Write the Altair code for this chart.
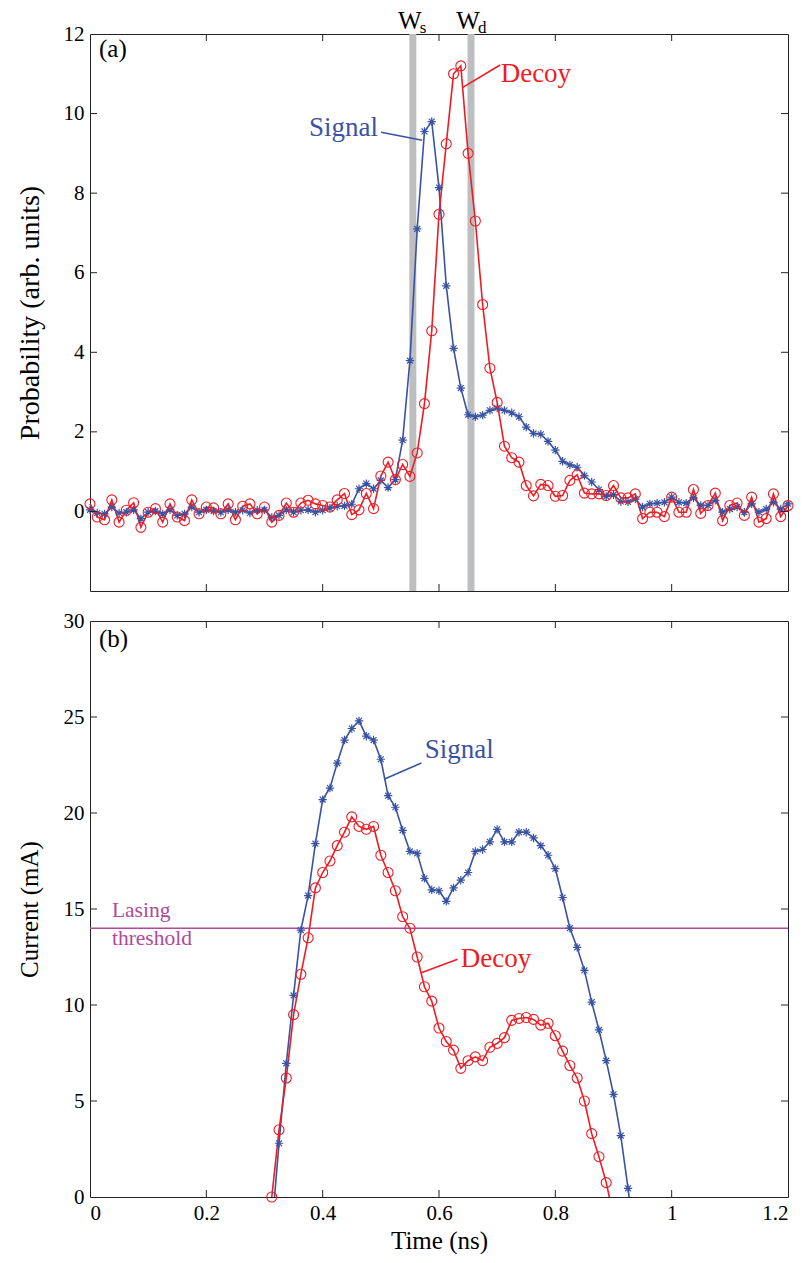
import altair as alt
import pandas as pd

# ---------------- data: panel (a) ----------------
time_a = [0, 0.0125, 0.025, 0.0375, 0.05, 0.0625, 0.075, 0.0875, 0.1, 0.1125,
          0.125, 0.1375, 0.15, 0.1625, 0.175, 0.1875, 0.2, 0.2125, 0.225, 0.2375,
          0.25, 0.2625, 0.275, 0.2875, 0.3, 0.3125, 0.325, 0.3375, 0.35, 0.3625,
          0.375, 0.3875, 0.4, 0.4125, 0.425, 0.4375, 0.45, 0.4625, 0.475, 0.4875,
          0.5, 0.5125, 0.525, 0.5375, 0.55, 0.5625, 0.575, 0.5875, 0.6, 0.6125,
          0.625, 0.6375, 0.65, 0.6625, 0.675, 0.6875, 0.7, 0.7125, 0.725, 0.7375,
          0.75, 0.7625, 0.775, 0.7875, 0.8, 0.8125, 0.825, 0.8375, 0.85, 0.8625,
          0.875, 0.8875, 0.9, 0.9125, 0.925, 0.9375, 0.95, 0.9625, 0.975, 0.9875,
          1.0, 1.0125, 1.025, 1.0375, 1.05, 1.0625, 1.075, 1.0875, 1.1, 1.1125,
          1.125, 1.1375, 1.15, 1.1625, 1.175, 1.1875, 1.2]

signal_a = [0.04, -0.04, -0.06, 0.11, -0.04, -0.02, 0.04, -0.18, -0.02, 0.01,
            -0.06, 0.04, -0.10, -0.06, 0.11, -0.02, 0.04, 0.01, -0.02, 0.04,
            -0.02, 0.03, -0.04, 0.03, 0.04, -0.15, -0.10, 0.04, -0.02, 0.03,
            0.04, -0.02, 0.03, 0.08, 0.13, 0.14, 0.18, 0.57, 0.70, 0.57,
            0.78, 0.60, 0.80, 1.79, 3.79, 7.10, 9.55, 9.80, 8.14, 5.67,
            4.10, 3.10, 2.43, 2.38, 2.42, 2.54, 2.60, 2.54, 2.48, 2.38,
            2.12, 1.96, 1.94, 1.76, 1.54, 1.26, 1.17, 1.11, 0.90, 0.74,
            0.55, 0.38, 0.42, 0.25, 0.24, 0.31, 0.11, 0.19, 0.21, 0.23,
            0.36, 0.23, 0.21, 0.34, 0.15, 0.15, 0.28, -0.02, 0.06, 0.11,
            -0.02, 0.19, -0.02, 0.06, 0.23, 0.06, 0.19]

decoy_a = [0.19, -0.14, -0.21, 0.29, -0.27, 0.03, 0.22, -0.40, -0.02, 0.07,
           -0.27, 0.19, -0.14, -0.23, 0.29, -0.06, 0.11, 0.09, -0.06, 0.19,
           -0.21, 0.13, 0.19, -0.06, 0.11, -0.27, -0.10, 0.21, -0.02, 0.21,
           0.28, 0.19, 0.15, 0.11, 0.29, 0.45, -0.08, 0.04, 0.45, 0.07,
           0.89, 1.24, 0.80, 1.18, 0.88, 1.47, 2.71, 4.54, 7.47, 9.24,
           11.0, 11.2, 9.0, 7.3, 5.2, 3.6, 2.74, 1.64, 1.35, 1.24,
           0.65, 0.39, 0.68, 0.65, 0.38, 0.40, 0.78, 0.92, 0.46, 0.44,
           0.44, 0.40, 0.65, 0.34, 0.34, 0.44, -0.18, -0.02, -0.02, -0.13,
           0.36, -0.02, -0.02, 0.55, -0.05, 0.15, 0.46, -0.23, 0.15, 0.21,
           -0.10, 0.36, -0.27, -0.18, 0.44, -0.13, 0.15]

window_times = [0.555, 0.655]
window_names = ["W", "W"]
window_subs = ["s", "d"]

# ---------------- data: panel (b) ----------------
time_b_signal = [0.3125, 0.325, 0.3375, 0.35, 0.3625, 0.375, 0.3875, 0.4, 0.4125, 0.425,
                 0.4375, 0.45, 0.4625, 0.475, 0.4875, 0.5, 0.5125, 0.525, 0.5375, 0.55,
                 0.5625, 0.575, 0.5875, 0.6, 0.6125, 0.625, 0.6375, 0.65, 0.6625, 0.675,
                 0.6875, 0.7, 0.7125, 0.725, 0.7375, 0.75, 0.7625, 0.775, 0.7875, 0.8,
                 0.8125, 0.825, 0.8375, 0.85, 0.8625, 0.875, 0.8875, 0.9, 0.9125, 0.925,
                 0.9375]
signal_b = [-1.7, 2.8, 6.96, 10.5, 13.9, 15.7, 18.4, 20.7, 21.3, 22.6,
            23.8, 24.4, 24.8, 24.0, 23.8, 22.8, 20.9, 20.3, 19.1, 18.0,
            17.9, 16.6, 16.0, 15.95, 15.4, 16.1, 16.5, 16.9, 18.0, 18.1,
            18.5, 19.15, 18.5, 18.5, 19.0, 19.0, 18.7, 18.3, 17.8, 17.1,
            15.6, 14.0, 13.0, 11.8, 10.15, 8.7, 7.1, 5.35, 3.2, 0.45,
            -2.5]

time_b_decoy = [0.3125, 0.325, 0.3375, 0.35, 0.3625, 0.375, 0.3875, 0.4, 0.4125, 0.425,
                0.4375, 0.45, 0.4625, 0.475, 0.4875, 0.5, 0.5125, 0.525, 0.5375, 0.55,
                0.5625, 0.575, 0.5875, 0.6, 0.6125, 0.625, 0.6375, 0.65, 0.6625, 0.675,
                0.6875, 0.7, 0.7125, 0.725, 0.7375, 0.75, 0.7625, 0.775, 0.7875, 0.8,
                0.8125, 0.825, 0.8375, 0.85, 0.8625, 0.875, 0.8875, 0.9]
decoy_b = [0.0, 3.5, 6.2, 9.5, 11.6, 13.5, 16.1, 16.9, 17.5, 18.3,
           19.0, 19.8, 19.3, 19.15, 19.3, 17.8, 16.9, 15.95, 14.6, 14.0,
           12.5, 10.95, 10.2, 8.8, 8.1, 7.65, 6.7, 7.1, 7.3, 7.1,
           7.8, 8.0, 8.3, 9.2, 9.3, 9.35, 9.25, 8.95, 9.05, 8.4,
           7.6, 6.85, 6.2, 5.0, 3.3, 2.1, 0.75, -1.0]

threshold_value = [14]

# tick values
x_ticks = [0, 0.2, 0.4, 0.6, 0.8, 1.0, 1.2]
x_inner_ticks = [0.2, 0.4, 0.6, 0.8, 1.0]
ya_ticks = [0, 2, 4, 6, 8, 10, 12]
ya_inner_ticks = [0, 2, 4, 6, 8, 10]
yb_ticks = [0, 5, 10, 15, 20, 25, 30]
yb_inner_ticks = [5, 10, 15, 20, 25]

# annotation labels (text, x, y)
ann_a_text = ["Signal", "Decoy"]
ann_a_x = [0.4953, 0.706]
ann_a_y = [9.43, 10.79]
lead_a = {"x1": [0.5004, 0.705], "y1": [9.53, 11.22], "x2": [0.571, 0.641], "y2": [9.33, 10.66]}
ann_b_text = ["Signal", "Decoy"]
ann_b_x = [0.5753, 0.6375]
ann_b_y = [22.86, 12.0]
lead_b = {"x1": [0.5697, 0.632], "y1": [22.6, 12.38], "x2": [0.5055, 0.5696], "y2": [21.76, 11.68]}
lasing_text = ["Lasing", "threshold"]
lasing_x = [0.0377, 0.0377]
lasing_y = [14.6, 13.1]

# ---------------- styles ----------------
BLUE = "#3953a4"
RED = "#ed1c24"
GREY = "#bcbec0"
PURPLE = "#b0489b"
FRAME = "#222222"
FONT = "Liberation Serif"
W = 698
HA = 557
HB = 576
TICK = 7
ASTERISK = "M-1,0L1,0M0,-1L0,1M-0.7,-0.7L0.7,0.7M-0.7,0.7L0.7,-0.7"

xscale = alt.Scale(domain=[0, 1.2], nice=False, zero=False)
ya_scale = alt.Scale(domain=[-2, 12], nice=False, zero=False)
yb_scale = alt.Scale(domain=[0, 30], nice=False, zero=False)

AX_STYLE = dict(labelFont=FONT, titleFont=FONT, labelFontSize=21,
                labelColor="black", titleColor="black", titleFontWeight="normal",
                ticks=False, domain=False, grid=False)

axis_ya = alt.Axis(values=ya_ticks, format="d", title="Probability (arb. units)",
                   labelPadding=6, titlePadding=19, titleFontSize=28, **AX_STYLE)
axis_yb = alt.Axis(values=yb_ticks, format="d", title="Current (mA)",
                   labelPadding=6, titlePadding=21, titleFontSize=25, **AX_STYLE)
axis_xb = alt.Axis(values=x_ticks, format=".1~f", title="Time (ns)",
                   labelPadding=5, titlePadding=5, titleFontSize=25, **AX_STYLE)


def xa(f):
    return alt.X(f, type="quantitative", scale=xscale, axis=None)


def xb(f):
    return alt.X(f, type="quantitative", scale=xscale, axis=axis_xb)


def ya(f):
    return alt.Y(f, type="quantitative", scale=ya_scale, axis=axis_ya)


def yb(f):
    return alt.Y(f, type="quantitative", scale=yb_scale, axis=axis_yb)


def inner_ticks(xf, yf, xvals, yvals, H):
    dx = pd.DataFrame({"v": xvals})
    dy = pd.DataFrame({"v": yvals})
    top = alt.Chart(dx).mark_rule(color=FRAME, strokeWidth=1).encode(
        x=xf("v"), y=alt.value(0), y2=alt.value(TICK))
    bot = alt.Chart(dx).mark_rule(color=FRAME, strokeWidth=1).encode(
        x=xf("v"), y=alt.value(H - TICK), y2=alt.value(H))
    left = alt.Chart(dy).mark_rule(color=FRAME, strokeWidth=1).encode(
        y=yf("v"), x=alt.value(0), x2=alt.value(TICK))
    right = alt.Chart(dy).mark_rule(color=FRAME, strokeWidth=1).encode(
        y=yf("v"), x=alt.value(W - TICK), x2=alt.value(W))
    return [top, bot, left, right]


def star_points(df, xf, yf):
    return alt.Chart(df).mark_point(shape=ASTERISK, size=70, filled=False, color=BLUE,
                                    strokeWidth=1.2, opacity=1).encode(x=xf("t"), y=yf("v"))


def circle_points(df, xf, yf):
    return alt.Chart(df).mark_point(shape="circle", size=100, filled=False, color=RED,
                                    strokeWidth=1.1, opacity=1).encode(x=xf("t"), y=yf("v"))


# ---------------- panel (a) ----------------
dfa_s = pd.DataFrame({"t": time_a, "v": signal_a})
dfa_d = pd.DataFrame({"t": time_a, "v": decoy_a})
dfw = pd.DataFrame({"t": window_times, "w": window_names, "sub": window_subs})

bars = alt.Chart(dfw).mark_rule(color=GREY, strokeWidth=7).encode(
    x=xa("t"), y=alt.value(0), y2=alt.value(HA))
w_main = alt.Chart(dfw).mark_text(font=FONT, fontSize=25, align="center",
                                  baseline="alphabetic", dx=-3, color="black").encode(
    x=xa("t"), y=alt.value(-5), text="w:N")
w_sub = alt.Chart(dfw).mark_text(font=FONT, fontSize=17, align="left",
                                 baseline="alphabetic", dx=7, color="black").encode(
    x=xa("t"), y=alt.value(-1), text="sub:N")

line_as = alt.Chart(dfa_s).mark_line(color=BLUE, strokeWidth=1.6).encode(x=xa("t"), y=ya("v"))
line_ad = alt.Chart(dfa_d).mark_line(color=RED, strokeWidth=1.6).encode(x=xa("t"), y=ya("v"))
pts_as = star_points(dfa_s, xa, ya)
pts_ad = circle_points(dfa_d, xa, ya)

ann_a = pd.DataFrame({"label": ann_a_text, "x": ann_a_x, "y": ann_a_y})
txt_a_sig = alt.Chart(ann_a.iloc[[0]]).mark_text(font=FONT, fontSize=27, align="right",
                                                baseline="alphabetic", color=BLUE).encode(
    x=xa("x"), y=ya("y"), text="label:N")
txt_a_dec = alt.Chart(ann_a.iloc[[1]]).mark_text(font=FONT, fontSize=27, align="left",
                                                baseline="alphabetic", color=RED).encode(
    x=xa("x"), y=ya("y"), text="label:N")
la = pd.DataFrame(lead_a)
lead_a_sig = alt.Chart(la.iloc[[0]]).mark_rule(color=BLUE, strokeWidth=1.6).encode(
    x=xa("x1"), y=ya("y1"), x2="x2:Q", y2="y2:Q")
lead_a_dec = alt.Chart(la.iloc[[1]]).mark_rule(color=RED, strokeWidth=1.6).encode(
    x=xa("x1"), y=ya("y1"), x2="x2:Q", y2="y2:Q")
lab_a = alt.Chart(pd.DataFrame({"label": ["(a)"]})).mark_text(
    font=FONT, fontSize=25, align="left", baseline="alphabetic", color="black").encode(
    x=alt.value(9), y=alt.value(23), text="label:N")

panel_a = alt.layer(
    bars, line_as, line_ad, pts_as, pts_ad,
    *inner_ticks(xa, ya, x_inner_ticks, ya_inner_ticks, HA),
    lead_a_sig, lead_a_dec, txt_a_sig, txt_a_dec, lab_a, w_main, w_sub,
).properties(width=W, height=HA)

# ---------------- panel (b) ----------------
dfb_s = pd.DataFrame({"t": time_b_signal, "v": signal_b})
dfb_d = pd.DataFrame({"t": time_b_decoy, "v": decoy_b})

thr = alt.Chart(pd.DataFrame({"v": threshold_value})).mark_rule(
    color=PURPLE, strokeWidth=1.6).encode(y=yb("v"))
line_bs = alt.Chart(dfb_s).mark_line(color=BLUE, strokeWidth=1.6, clip=True).encode(
    x=xb("t"), y=yb("v"))
line_bd = alt.Chart(dfb_d).mark_line(color=RED, strokeWidth=1.6, clip=True).encode(
    x=xb("t"), y=yb("v"))
pts_bs = star_points(dfb_s[dfb_s["v"] > 0], xb, yb)
pts_bd = circle_points(dfb_d[dfb_d["v"] >= 0], xb, yb)

ann_b = pd.DataFrame({"label": ann_b_text, "x": ann_b_x, "y": ann_b_y})
txt_b_sig = alt.Chart(ann_b.iloc[[0]]).mark_text(font=FONT, fontSize=27, align="left",
                                                baseline="alphabetic", color=BLUE).encode(
    x=xb("x"), y=yb("y"), text="label:N")
txt_b_dec = alt.Chart(ann_b.iloc[[1]]).mark_text(font=FONT, fontSize=27, align="left",
                                                baseline="alphabetic", color=RED).encode(
    x=xb("x"), y=yb("y"), text="label:N")
lb = pd.DataFrame(lead_b)
lead_b_sig = alt.Chart(lb.iloc[[0]]).mark_rule(color=BLUE, strokeWidth=1.6).encode(
    x=xb("x1"), y=yb("y1"), x2="x2:Q", y2="y2:Q")
lead_b_dec = alt.Chart(lb.iloc[[1]]).mark_rule(color=RED, strokeWidth=1.6).encode(
    x=xb("x1"), y=yb("y1"), x2="x2:Q", y2="y2:Q")
txt_lasing = alt.Chart(pd.DataFrame({"label": lasing_text, "x": lasing_x, "y": lasing_y})).mark_text(
    font=FONT, fontSize=21.5, align="left", baseline="alphabetic", color=PURPLE).encode(
    x=xb("x"), y=yb("y"), text="label:N")
lab_b = alt.Chart(pd.DataFrame({"label": ["(b)"]})).mark_text(
    font=FONT, fontSize=25, align="left", baseline="alphabetic", color="black").encode(
    x=alt.value(9), y=alt.value(26), text="label:N")

panel_b = alt.layer(
    thr, line_bs, line_bd, pts_bs, pts_bd,
    *inner_ticks(xb, yb, x_inner_ticks, yb_inner_ticks, HB),
    lead_b_sig, lead_b_dec, txt_b_sig, txt_b_dec, txt_lasing, lab_b,
).properties(width=W, height=HB)

chart = alt.vconcat(panel_a, panel_b, spacing=14).properties(
    padding={"left": 7, "top": 0, "right": 0, "bottom": 0},
    background="white",
).configure_view(stroke=FRAME, strokeWidth=1).configure_axis(
    labelFont=FONT, titleFont=FONT, labelFontSize=21,
    labelColor="black", titleColor="black", titleFontWeight="normal",
    ticks=False, domain=False, grid=False,
)

chart.save("out.html", embed_options={"renderer": "svg", "actions": False})
